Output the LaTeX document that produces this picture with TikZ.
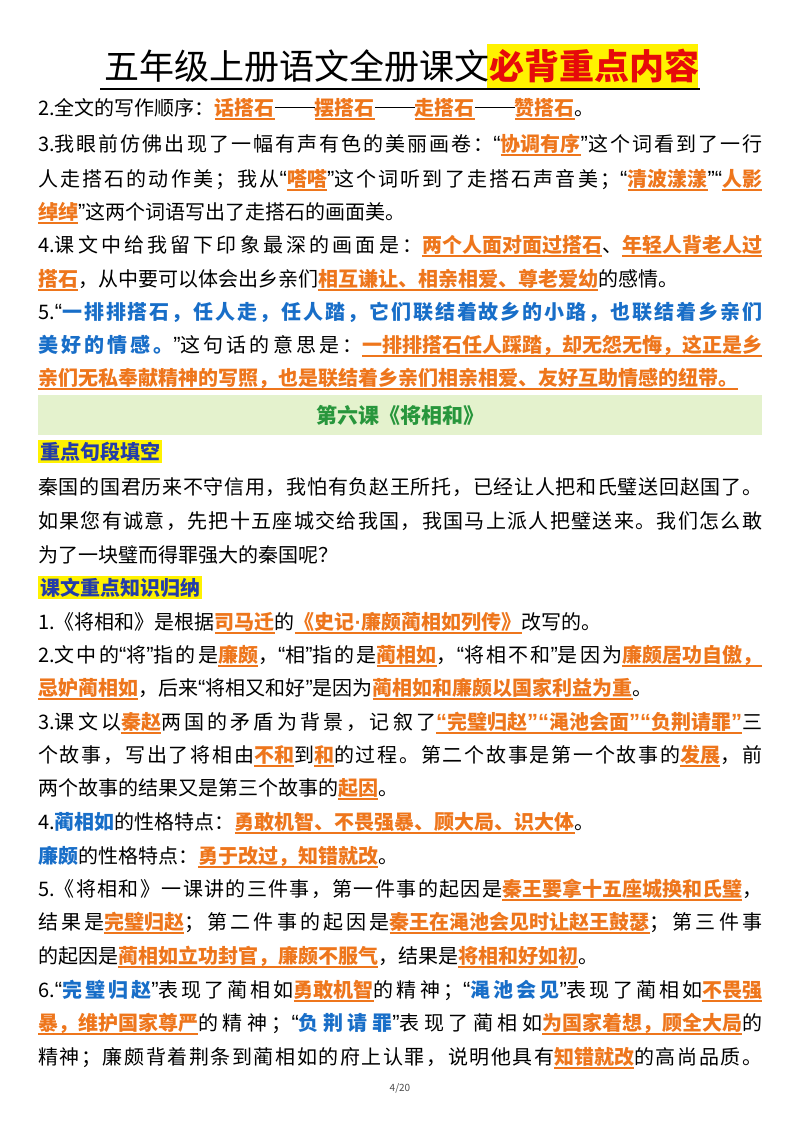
\documentclass[tikz,border=0pt]{standalone}
\usepackage{fontspec}
\setmainfont{Noto Sans CJK SC}
\newfontfamily\qfont{Liberation Sans}
\definecolor{orgc}{RGB}{238,118,28}
\definecolor{blc}{RGB}{24,110,200}
\definecolor{navy}{RGB}{35,60,170}
\definecolor{grn}{RGB}{40,150,60}
\definecolor{grnbg}{RGB}{228,242,205}
\definecolor{ttlred}{RGB}{230,10,10}
\XeTeXinterchartokenstate=1
\newcount\cjkcc
\cjkcc="4E00 \loop \XeTeXcharclass\cjkcc=1 \advance\cjkcc1 \ifnum\cjkcc<"A000 \repeat
\cjkcc="3000 \loop \XeTeXcharclass\cjkcc=1 \advance\cjkcc1 \ifnum\cjkcc<"3040 \repeat
\cjkcc="FF00 \loop \XeTeXcharclass\cjkcc=1 \advance\cjkcc1 \ifnum\cjkcc<"FF61 \repeat
\XeTeXinterchartoks 1 1 = {\hskip 0pt plus 3pt minus 0.6pt}
\newsavebox\hlbox
\newcommand\hl[1]{\sbox\hlbox{\bfseries\color{orgc}#1}\usebox\hlbox\llap{\color{orgc}\rule[-5pt]{\wd\hlbox}{1.6pt}}}
\newcommand\bl[1]{{\bfseries\color{blc}#1}}
\newcommand\fl[1]{\makebox[724pt][s]{#1}}
\newcommand\ql{{\qfont\fontsize{22}{24}\selectfont“}}
\newcommand\qr{{\qfont\fontsize{22}{24}\selectfont”}}
\newcommand\md{{\qfont\bfseries·}}
\newcommand\dsh{\rule[0.35em]{2em}{1.1pt}}
\begin{document}
\begin{tikzpicture}[x=1pt,y=-1pt,
  ln/.style={anchor=base west,inner sep=0pt,font=\fontsize{20}{24}\selectfont},
  tag/.style={anchor=base west,inner sep=2pt,fill=yellow,font=\fontsize{20}{24}\selectfont\bfseries,text=navy}]
\useasboundingbox (0,0) rectangle (800,1132);
\fill[white] (0,0) rectangle (800,1132);
% title
\fill[yellow] (487,44) rectangle (698,88);
\node[anchor=base west,inner sep=0pt,font=\fontsize{35}{40}\selectfont] (ttl) at (104,80) {五年级上册语文全册课文{\bfseries\color{ttlred}必背重点内容}};
\draw[line width=1.5pt] (100,89) -- (700,89);
% part 1
\node[ln] (a1) at (38,115) {2.全文的写作顺序：\hl{话搭石}\dsh\hl{摆搭石}\dsh\hl{走搭石}\dsh\hl{赞搭石}。};
\node[ln] (a2) at (38,151) {\fl{3.我眼前仿佛出现了一幅有声有色的美丽画卷：\ql\hl{协调有序}\qr 这个词看到了一行}};
\node[ln] (a3) at (38,186) {\fl{人走搭石的动作美；我从\ql\hl{嗒嗒}\qr 这个词听到了走搭石声音美；\ql\hl{清波漾漾}\qr\ql\hl{人影}}};
\node[ln] (a4) at (38,219) {\hl{绰绰}\qr 这两个词语写出了走搭石的画面美。};
\node[ln] (a5) at (38,252) {\fl{4.课文中给我留下印象最深的画面是：\hl{两个人面对面过搭石}、\hl{年轻人背老人过}}};
\node[ln] (a6) at (38,286) {\hl{搭石}，从中要可以体会出乡亲们\hl{相互谦让、相亲相爱、尊老爱幼}的感情。};
\node[ln] (a7) at (38,319) {\fl{5.\ql\bl{一排排搭石，任人走，任人踏，它们联结着故乡的小路，也联结着乡亲们}}};
\node[ln] (a8) at (38,352) {\fl{\bl{美好的情感。}\qr 这句话的意思是：\hl{一排排搭石任人踩踏，却无怨无悔，这正是乡}}};
\node[ln] (a9) at (38,385) {\hl{亲们无私奉献精神的写照，也是联结着乡亲们相亲相爱、友好互助情感的纽带。}};
% header
\fill[grnbg] (38,395) rectangle (762,435);
\node[anchor=center,inner sep=0pt,font=\fontsize{21}{24}\selectfont\bfseries,text=grn] (hd) at (400,415) {第六课《将相和》};
\node[tag] (t1) at (38,459) {重点句段填空};
\node[ln] (b1) at (38,494) {\fl{秦国的国君历来不守信用，我怕有负赵王所托，已经让人把和氏璧送回赵国了。}};
\node[ln] (b2) at (38,528) {\fl{如果您有诚意，先把十五座城交给我国，我国马上派人把璧送来。我们怎么敢}};
\node[ln] (b3) at (38,562) {为了一块璧而得罪强大的秦国呢？};
\node[tag] (t2) at (38,595) {课文重点知识归纳};
\node[ln] (c1) at (38,629) {1.《将相和》是根据\hl{司马迁}的\hl{《史记\md 廉颇蔺相如列传》}改写的。};
\node[ln] (c2) at (38,662) {\fl{2.文中的\ql 将\qr 指的是\hl{廉颇}，\ql 相\qr 指的是\hl{蔺相如}，\ql 将相不和\qr 是因为\hl{廉颇居功自傲，}}};
\node[ln] (c3) at (38,695) {\hl{忌妒蔺相如}，后来\ql 将相又和好\qr 是因为\hl{蔺相如和廉颇以国家利益为重}。};
\node[ln] (c4) at (38,729) {\fl{3.课文以\hl{秦赵}两国的矛盾为背景，记叙了\hl{\ql 完璧归赵\qr\ql 渑池会面\qr\ql 负荆请罪\qr}三}};
\node[ln] (c5) at (38,762) {\fl{个故事，写出了将相由\hl{不和}到\hl{和}的过程。第二个故事是第一个故事的\hl{发展}，前}};
\node[ln] (c6) at (38,795) {两个故事的结果又是第三个故事的\hl{起因}。};
\node[ln] (c7) at (38,829) {4.\bl{蔺相如}的性格特点：\hl{勇敢机智、不畏强暴、顾大局、识大体}。};
\node[ln] (c8) at (38,863) {\bl{廉颇}的性格特点：\hl{勇于改过，知错就改}。};
\node[ln] (c9) at (38,896) {\fl{5.《将相和》一课讲的三件事，第一件事的起因是\hl{秦王要拿十五座城换和氏璧}，}};
\node[ln] (c10) at (38,929) {\fl{结果是\hl{完璧归赵}；第二件事的起因是\hl{秦王在渑池会见时让赵王鼓瑟}；第三件事}};
\node[ln] (c11) at (38,963) {的起因是\hl{蔺相如立功封官，廉颇不服气}，结果是\hl{将相和好如初}。};
\node[ln] (c12) at (38,997) {\fl{6.\ql\bl{完璧归赵}\qr 表现了蔺相如\hl{勇敢机智}的精神；\ql\bl{渑池会见}\qr 表现了蔺相如\hl{不畏强}}};
\node[ln] (c13) at (38,1030) {\fl{\hl{暴，维护国家尊严}的精神；\ql\bl{负荆请罪}\qr 表现了蔺相如\hl{为国家着想，顾全大局}的}};
\node[ln] (c14) at (38,1064) {\fl{精神；廉颇背着荆条到蔺相如的府上认罪，说明他具有\hl{知错就改}的高尚品质。}};
\node[anchor=center,font=\fontsize{10}{12}\selectfont,text=black!70] (pg) at (400,1088) {4/20};
\end{tikzpicture}
\end{document}
